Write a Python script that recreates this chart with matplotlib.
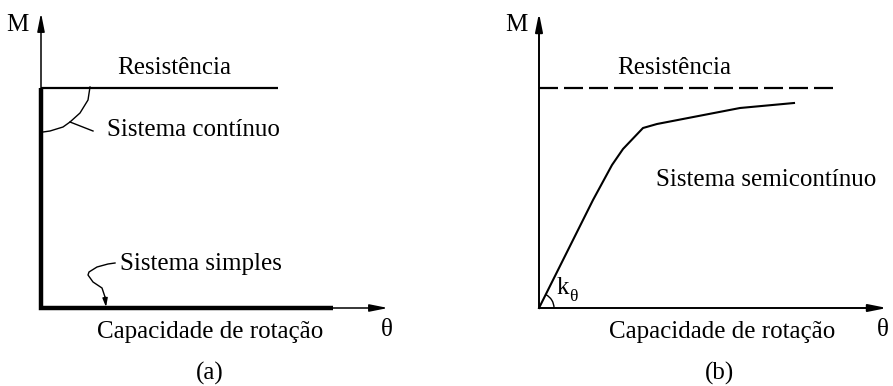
import numpy as np
import matplotlib.pyplot as plt
from matplotlib.patches import Arc

plt.rcParams['font.family'] = ['Liberation Serif', 'DejaVu Serif']

# diagram units: origin of each panel at (0, 0), resistance level at M = 220
M_res = 220

# panel (a)
a_res_end = 237
a_thick_end = 292
a_axis_x = 347
a_axis_y = 295
cont_leader_x = [49, 47, 39, 29, 22, 9, 2]
cont_leader_y = [221, 208, 195, 186, 181, 177, 176]
cont_branch_x = [29, 52]
cont_branch_y = [186, 177]
simp_leader_x = [74, 67, 56, 48, 47, 52, 61, 64]
simp_leader_y = [45, 44, 41, 36, 33, 26, 20, 11]
simp_tip = (65, 1)

# panel (b)
b_res_end = 294
b_axis_x = 348
b_axis_y = 295
semi_theta = [0, 54, 73, 84, 104, 118, 201, 255]
semi_M = [0, 108, 143, 159, 180, 184, 200, 205]

fs = 18
W, H = 893, 386
fig = plt.figure(figsize=(W / 100, H / 100), dpi=100)


def make_ax(left, right, ox, oy=308):
    ax = fig.add_axes([left / W, 0, (right - left) / W, 1])
    ax.set_xlim(left - ox, right - ox)
    ax.set_ylim(oy - H, oy)
    ax.axis('off')
    return ax


def axes_arrows(ax, xmax, ymax, lw):
    arr = dict(arrowstyle='-|>,head_length=1.1,head_width=0.22', lw=lw,
               color='k', shrinkA=0, shrinkB=0)
    ax.annotate('', xy=(xmax, 0), xytext=(0, 0), arrowprops=arr)
    ax.annotate('', xy=(0, ymax), xytext=(0, 0), arrowprops=arr)


# ---- (a)
ax1 = make_ax(0, W / 2, 41)
axes_arrows(ax1, a_axis_x, a_axis_y, 1.1)
ax1.plot([0, a_res_end], [M_res, M_res], color='k', lw=1.6, solid_capstyle='butt')
ax1.plot([0, 0, a_thick_end], [M_res, 0, 0], color='k', lw=3.2,
         solid_joinstyle='miter', solid_capstyle='butt')
ax1.plot(cont_leader_x, cont_leader_y, color='k', lw=1.0)
ax1.plot(cont_branch_x, cont_branch_y, color='k', lw=1.0)
ax1.plot(simp_leader_x, simp_leader_y, color='k', lw=1.0)
ax1.annotate('', xy=simp_tip, xytext=(simp_leader_x[-1], simp_leader_y[-1]),
             arrowprops=dict(arrowstyle='-|>,head_length=0.5,head_width=0.15',
                             lw=1.0, color='k', shrinkA=0, shrinkB=0))
ax1.text(-12, 283, 'M', fontsize=fs, ha='right', va='center')
ax1.text(133, 240, 'Resistência', fontsize=fs, ha='center', va='center')
ax1.text(66, 178, 'Sistema contínuo', fontsize=fs, ha='left', va='center')
ax1.text(79, 44, 'Sistema simples', fontsize=fs, ha='left', va='center')
ax1.text(169, -24, 'Capacidade de rotação', fontsize=fs, ha='center', va='center')
ax1.text(346, -22, 'θ', fontsize=fs, ha='center', va='center')
ax1.text(169, -65, '(a)', fontsize=fs, ha='center', va='center')

# ---- (b)
ax2 = make_ax(W / 2, W, 539)
axes_arrows(ax2, b_axis_x, b_axis_y, 1.4)
ax2.plot([0, b_res_end], [M_res, M_res], color='k', lw=1.6, dashes=(8.55, 2.7))
ax2.plot(semi_theta, semi_M, color='k', lw=1.5)
ax2.add_patch(Arc((0, 0), 30, 30, theta1=0, theta2=63, color='k', lw=1.0))
ax2.text(-11, 283, 'M', fontsize=fs, ha='right', va='center')
ax2.text(135, 240, 'Resistência', fontsize=fs, ha='center', va='center')
ax2.text(117, 128, 'Sistema semicontínuo', fontsize=fs, ha='left', va='center')
ax2.text(18, 20, 'k', fontsize=fs, ha='left', va='center')
ax2.text(30, 11, 'θ', fontsize=fs * 0.7, ha='left', va='center')
ax2.text(183, -24, 'Capacidade de rotação', fontsize=fs, ha='center', va='center')
ax2.text(344, -22, 'θ', fontsize=fs, ha='center', va='center')
ax2.text(181, -65, '(b)', fontsize=fs, ha='center', va='center')

fig.savefig('out.png', dpi=100)
